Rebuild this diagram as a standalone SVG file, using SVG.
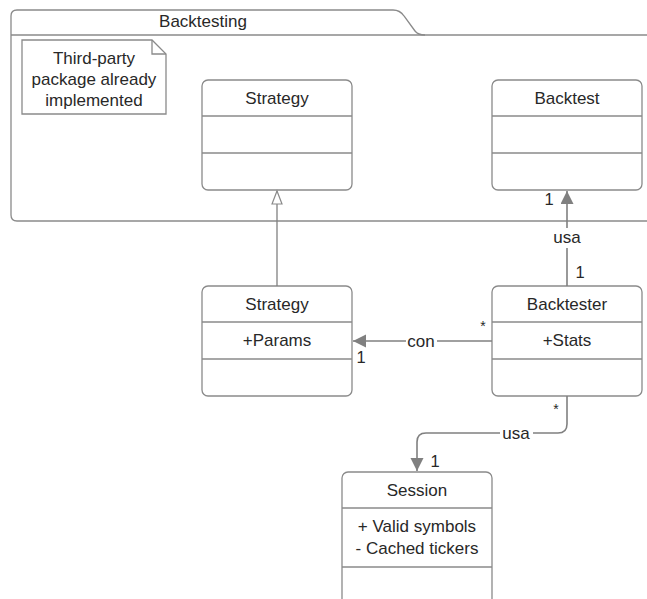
<svg xmlns="http://www.w3.org/2000/svg" width="647" height="599" viewBox="0 0 647 599">
  <style>
    .box { fill: #ffffff; stroke: #8a8a8a; stroke-width: 1.3; }
    .div { stroke: #8a8a8a; stroke-width: 1.3; fill: none; }
    .conn { stroke: #808080; stroke-width: 1.6; fill: none; }
    text { font-family: "Liberation Sans", Arial, sans-serif; fill: #282828; font-size: 17px; }
    .c { text-anchor: middle; }
    .m { font-size: 16.5px; }
    .star { font-size: 14px; }
    .lbl { fill: #ffffff; }
  </style>
  <defs>
    <marker id="filled" markerWidth="16" markerHeight="16" refX="13" refY="6.5" orient="auto" markerUnits="userSpaceOnUse">
      <path d="M0,0 L13,6.5 L0,13 Z" fill="#808080"/>
    </marker>
    <marker id="hollow" markerWidth="16" markerHeight="14" refX="14" refY="6" orient="auto" markerUnits="userSpaceOnUse">
      <path d="M1,1 L14,6 L1,11 Z" fill="#ffffff" stroke="#8a8a8a" stroke-width="1.2"/>
    </marker>
  </defs>

  <!-- package frame -->
  <g id="package-backtesting">
    <path class="box" d="M660,221 L17,221 Q11,221 11,215 L11,16 Q11,10 17,10 L393,10 Q400,10 404,16 L415,31 Q418,35 425,35 L660,35"/>
    <line class="div" x1="11" y1="35" x2="425" y2="35"/>
    <text class="c" x="203" y="27">Backtesting</text>
  </g>

  <!-- note -->
  <g id="note-third-party">
    <path class="box" d="M22,40 L152,40 L166,54 L166,114 L22,114 Z"/>
    <path class="div" d="M152,40 L152,54 L166,54"/>
    <text class="c" x="94" y="64">Third-party</text>
    <text class="c" x="94" y="85">package already</text>
    <text class="c" x="94" y="106">implemented</text>
  </g>

  <!-- classes -->
  <g id="class-strategy-base">
    <rect class="box" x="202" y="80" width="150" height="110" rx="6"/>
    <line class="div" x1="202" y1="116" x2="352" y2="116"/>
    <line class="div" x1="202" y1="153" x2="352" y2="153"/>
    <text class="c" x="277" y="104">Strategy</text>
  </g>

  <g id="class-backtest">
    <rect class="box" x="492" y="80" width="150" height="110" rx="6"/>
    <line class="div" x1="492" y1="116" x2="642" y2="116"/>
    <line class="div" x1="492" y1="153" x2="642" y2="153"/>
    <text class="c" x="567" y="104">Backtest</text>
  </g>

  <g id="class-strategy">
    <rect class="box" x="202" y="286" width="150" height="110" rx="6"/>
    <line class="div" x1="202" y1="322" x2="352" y2="322"/>
    <line class="div" x1="202" y1="359" x2="352" y2="359"/>
    <text class="c" x="277" y="310">Strategy</text>
    <text class="c" x="277" y="346">+Params</text>
  </g>

  <g id="class-backtester">
    <rect class="box" x="492" y="286" width="150" height="110" rx="6"/>
    <line class="div" x1="492" y1="322" x2="642" y2="322"/>
    <line class="div" x1="492" y1="359" x2="642" y2="359"/>
    <text class="c" x="567" y="310">Backtester</text>
    <text class="c" x="567" y="346">+Stats</text>
  </g>

  <g id="class-session">
    <rect class="box" x="342" y="472" width="150" height="160" rx="6"/>
    <line class="div" x1="342" y1="508" x2="492" y2="508"/>
    <line class="div" x1="342" y1="567" x2="492" y2="567"/>
    <text class="c" x="417" y="496">Session</text>
    <text class="c" x="417" y="532">+ Valid symbols</text>
    <text class="c" x="417" y="554">- Cached tickers</text>
  </g>

  <!-- connectors -->
  <g id="connectors">
    <!-- generalization -->
    <line class="conn" x1="277" y1="286" x2="277" y2="191" marker-end="url(#hollow)" stroke="#8a8a8a" style="stroke-width:1.3"/>

    <!-- Backtester uses Backtest -->
    <line class="conn" x1="567" y1="286" x2="567" y2="191" marker-end="url(#filled)"/>
    <rect class="lbl" x="551" y="228" width="32" height="20"/>
    <text class="c" x="567" y="243">usa</text>
    <text class="c m" x="549" y="205">1</text>
    <text class="c m" x="580" y="278">1</text>

    <!-- Backtester to Strategy -->
    <line class="conn" x1="492" y1="341" x2="353" y2="341" marker-end="url(#filled)"/>
    <rect class="lbl" x="406" y="332" width="31" height="18"/>
    <text class="c" x="421" y="347">con</text>
    <text class="c star" x="483" y="331">*</text>
    <text class="c m" x="361" y="363">1</text>

    <!-- Backtester uses Session -->
    <path class="conn" d="M567,396 L567,424 Q567,433 558,433 L426,433 Q417,433 417,442 L417,471" marker-end="url(#filled)"/>
    <rect class="lbl" x="500" y="424" width="33" height="18"/>
    <text class="c" x="516" y="439">usa</text>
    <text class="c star" x="556" y="414">*</text>
    <text class="c m" x="435" y="467">1</text>
  </g>
</svg>
